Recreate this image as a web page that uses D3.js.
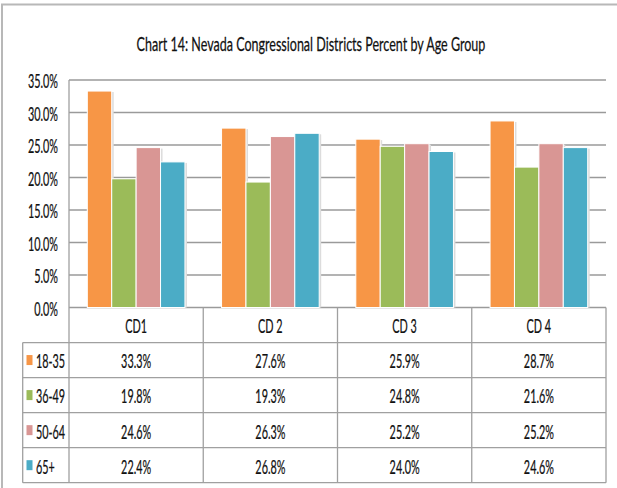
<!DOCTYPE html>
<html>
<head>
<meta charset="utf-8">
<script src="https://cdn.jsdelivr.net/npm/d3@7"></script>
<style>
  body { margin: 0; background: #fff; }
  text { font-family: Lato, 'Liberation Sans', sans-serif; fill: #111; stroke: #111; stroke-width: 0.25px; }
</style>
</head>
<body>
<div id="chart"></div>
<script>
// chart data
const districts = ['CD1', 'CD 2', 'CD 3', 'CD 4']
const ageGroups = ['18-35', '36-49', '50-64', '65+']
const age18to35 = [33.3, 27.6, 25.9, 28.7]
const age36to49 = [19.8, 19.3, 24.8, 21.6]
const age50to64 = [24.6, 26.3, 25.2, 25.2]
const age65plus = [22.4, 26.8, 24.0, 24.6]
const yTicks = [0, 5, 10, 15, 20, 25, 30, 35]

const series = [age18to35, age36to49, age50to64, age65plus]
const colors = ['#F79646', '#9BBB59', '#D99694', '#4BACC6']

const W = 617, H = 488
const plot = { left: 69, right: 606, top: 80, bottom: 307.5 }
const tableBottom = 482.7
const legendLeft = 22.7

const svg = d3.select('#chart').append('svg')
  .attr('width', W)
  .attr('height', H)

// glyphs in the reference are squeezed sideways, hence the x scale
function label(g, x, y, str, anchor, size, sx = 0.57) {
  return g.append('text')
    .attr('transform', `translate(${x},${y}) scale(${sx},1)`)
    .attr('text-anchor', anchor)
    .attr('dominant-baseline', 'central')
    .style('font-size', size + 'px')
    .text(str)
}

// outer frame (only top and left edges are visible)
svg.append('path')
  .attr('d', `M2,${H} V4.5 H${W}`)
  .attr('fill', 'none')
  .attr('stroke', '#b8b8b8')
  .attr('stroke-width', 2)

label(svg, 311, 43.5, 'Chart 14: Nevada Congressional Districts Percent by Age Group', 'middle', 19, 0.66)

const x = d3.scaleBand().domain(districts).range([plot.left, plot.right])
const x1 = d3.scaleBand().domain(ageGroups).range([0, x.bandwidth()]).paddingOuter(0.75)
const y = d3.scaleLinear().domain([0, 35]).range([plot.bottom, plot.top])

// gridlines
svg.append('g').selectAll('line')
  .data(yTicks)
  .join('line')
  .attr('x1', plot.left).attr('x2', plot.right)
  .attr('y1', d => y(d)).attr('y2', d => y(d))
  .attr('stroke', '#9a9a9a')
  .attr('stroke-width', 1.3)

const yLabels = svg.append('g')
yTicks.forEach(t => label(yLabels, 58, y(t) + 1, d3.format('.1f')(t) + '%', 'end', 19))

// bars
const barGroups = svg.append('g').selectAll('g')
  .data(districts)
  .join('g')
  .attr('transform', d => `translate(${x(d)},0)`)

const bars = barGroups.selectAll('g')
  .data((d, i) => ageGroups.map((a, k) => ({ age: a, k, v: series[k][i] })))
  .join('g')

bars.append('rect')
  .attr('x', d => x1(d.age) + 2)
  .attr('y', d => y(d.v) + 1)
  .attr('width', x1.bandwidth())
  .attr('height', d => plot.bottom - y(d.v) - 1)
  .attr('fill', '#dcdcdc')

bars.append('rect')
  .attr('x', d => x1(d.age))
  .attr('y', d => y(d.v))
  .attr('width', x1.bandwidth())
  .attr('height', d => plot.bottom - y(d.v))
  .attr('fill', d => colors[d.k])
  .attr('stroke', '#fff')
  .attr('stroke-width', 1)

// data table under the plot
const rows = d3.scaleBand().domain(['head', ...ageGroups]).range([plot.bottom, tableBottom])
const grid = svg.append('g')
  .attr('stroke', '#a0a0a0')
  .attr('stroke-width', 1.3)

grid.append('line')
  .attr('x1', plot.left).attr('x2', plot.left)
  .attr('y1', plot.top).attr('y2', tableBottom)
districts.forEach(d => {
  grid.append('line')
    .attr('x1', x(d) + x.bandwidth()).attr('x2', x(d) + x.bandwidth())
    .attr('y1', plot.bottom).attr('y2', tableBottom)
})
grid.append('line')
  .attr('x1', legendLeft).attr('x2', legendLeft)
  .attr('y1', rows(ageGroups[0])).attr('y2', tableBottom)
ageGroups.forEach(a => {
  grid.append('line')
    .attr('x1', legendLeft).attr('x2', plot.right)
    .attr('y1', rows(a)).attr('y2', rows(a))
})
grid.append('line')
  .attr('x1', legendLeft).attr('x2', plot.right)
  .attr('y1', tableBottom).attr('y2', tableBottom)

const cells = svg.append('g')
districts.forEach((d, i) => {
  const cx = x(d) + x.bandwidth() / 2
  label(cells, cx, rows('head') + rows.bandwidth() / 2 + 1, d, 'middle', 19)
  ageGroups.forEach((a, k) => {
    label(cells, cx, rows(a) + rows.bandwidth() / 2 + 1, series[k][i].toFixed(1) + '%', 'middle', 19)
  })
})

ageGroups.forEach((a, k) => {
  const cy = rows(a) + rows.bandwidth() / 2
  cells.append('rect')
    .attr('x', 26.5).attr('y', cy - 5)
    .attr('width', 6).attr('height', 10)
    .attr('fill', colors[k])
  label(cells, 36, cy + 1, a, 'start', 19)
})
</script>
</body>
</html>
